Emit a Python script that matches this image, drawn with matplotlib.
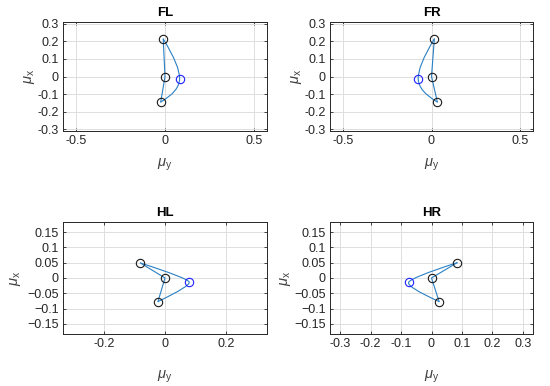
import numpy as np
import matplotlib
matplotlib.use("Agg")
import matplotlib.pyplot as plt
from matplotlib.path import Path
from matplotlib.patches import PathPatch
from matplotlib.ticker import FixedLocator, FixedFormatter

plt.rcParams['font.family'] = ['Liberation Sans', 'DejaVu Sans']
plt.rcParams['mathtext.fontset'] = 'custom'
plt.rcParams['mathtext.rm'] = 'Liberation Sans'
plt.rcParams['mathtext.it'] = 'Liberation Sans:italic'

# Data: (mu_y, mu_x) for each leg: top, center, bottom, and the blue point
titles = ["FL", "FR", "HL", "HR"]
top_y = [-0.010, 0.016, -0.080, 0.084]
top_x = [0.214, 0.214, 0.049, 0.050]
center_y = [0.0, 0.0, 0.0, 0.0]
center_x = [0.0, 0.0, 0.0, 0.0]
bottom_y = [-0.024, 0.033, -0.023, 0.025]
bottom_x = [-0.145, -0.145, -0.077, -0.077]
blue_y = [0.082, -0.075, 0.079, -0.075]
blue_x = [-0.014, -0.014, -0.013, -0.014]

# Axis ticks
top_xticks = [-0.5, 0, 0.5]
top_xticklabels = ["-0.5", "0", "0.5"]
top_yticks = [-0.3, -0.2, -0.1, 0, 0.1, 0.2, 0.3]
top_yticklabels = ["-0.3", "-0.2", "-0.1", "0", "0.1", "0.2", "0.3"]
hl_xticks = [-0.2, 0, 0.2]
hl_xticklabels = ["-0.2", "0", "0.2"]
hr_xticks = [-0.3, -0.2, -0.1, 0, 0.1, 0.2, 0.3]
hr_xticklabels = ["-0.3", "-0.2", "-0.1", "0", "0.1", "0.2", "0.3"]
bot_yticks = [-0.15, -0.1, -0.05, 0, 0.05, 0.1, 0.15]
bot_yticklabels = ["\u22120.15", "\u22120.1", "\u22120.05", "0", "0.05", "0.1", "0.15"]

LINE_C = "#2a80c4"
EDGE_C = "#262626"

fig = plt.figure(figsize=(5.5, 3.86), dpi=100)
W, H = 550, 386
boxes = [
    (63, 22, 267, 131),
    (330, 22, 533, 131),
    (63, 222, 267, 334),
    (330, 222, 533, 334),
]
xlims = [(-0.572, 0.572), (-0.572, 0.572), (-0.333, 0.333), (-0.333, 0.333)]
ylims = [(-0.31, 0.31), (-0.31, 0.31), (-0.183, 0.183), (-0.183, 0.183)]
xt = [(top_xticks, top_xticklabels), (top_xticks, top_xticklabels),
      (hl_xticks, hl_xticklabels), (hr_xticks, hr_xticklabels)]
yt = [(top_yticks, top_yticklabels), (top_yticks, top_yticklabels),
      (bot_yticks, bot_yticklabels), (bot_yticks, bot_yticklabels)]
curv = [0.2, 0.2, 0.1, 0.12]
xpad = [7, 7, 13, 13]
ypad = [0, 0, 3, 1]

for i, (l, t, r, b) in enumerate(boxes):
    ax = fig.add_axes([l / W, 1 - b / H, (r - l) / W, (b - t) / H])
    ax.set_xlim(*xlims[i])
    ax.set_ylim(*ylims[i])
    ax.xaxis.set_major_locator(FixedLocator(xt[i][0]))
    ax.xaxis.set_major_formatter(FixedFormatter(xt[i][1]))
    ax.yaxis.set_major_locator(FixedLocator(yt[i][0]))
    ax.yaxis.set_major_formatter(FixedFormatter(yt[i][1]))
    ax.grid(True, color="#dedede", linewidth=0.7)
    ax.set_axisbelow(True)
    for s in ax.spines.values():
        s.set_color(EDGE_C)
        s.set_linewidth(0.7)
    ax.tick_params(direction="in", length=2.5, width=0.6, colors=EDGE_C,
                   labelsize=9, labelcolor="#262626", pad=3, top=True, right=True)
    ax.set_title(titles[i], fontsize=9.5, fontweight="bold", pad=4)
    ax.set_xlabel(r"$\mu_{\rm y}$", fontsize=10.5, color="#404040", labelpad=xpad[i])
    ax.set_ylabel(r"$\mu_{\rm x}$", fontsize=10.5, color="#404040", labelpad=ypad[i])

    # straight polyline top -> center -> bottom
    ax.plot([top_y[i], center_y[i], bottom_y[i]], [top_x[i], center_x[i], bottom_x[i]],
            color=LINE_C, lw=0.8, zorder=2)
    # smooth curve bottom -> blue -> top
    P0 = np.array([bottom_y[i], bottom_x[i]])
    P1 = np.array([blue_y[i], blue_x[i]])
    P2 = np.array([top_y[i], top_x[i]])
    tan = (P2 - P0) * curv[i]
    verts = [P0, P1 - tan, P1, P1 + tan, P2]
    codes = [Path.MOVETO, Path.CURVE3, Path.CURVE3, Path.CURVE3, Path.CURVE3]
    ax.add_patch(PathPatch(Path(verts, codes), fill=False, edgecolor=LINE_C, lw=0.8, zorder=2))

    ax.plot([top_y[i], center_y[i], bottom_y[i]], [top_x[i], center_x[i], bottom_x[i]],
            ls="none", marker="o", ms=6, mfc="none", mec="#1a1a1a", mew=0.8, zorder=3)
    ax.plot([blue_y[i]], [blue_x[i]], ls="none", marker="o", ms=6, mfc="none",
            mec="#2020ff", mew=0.8, zorder=3)

fig.savefig("out.png", dpi=100, facecolor="white")
